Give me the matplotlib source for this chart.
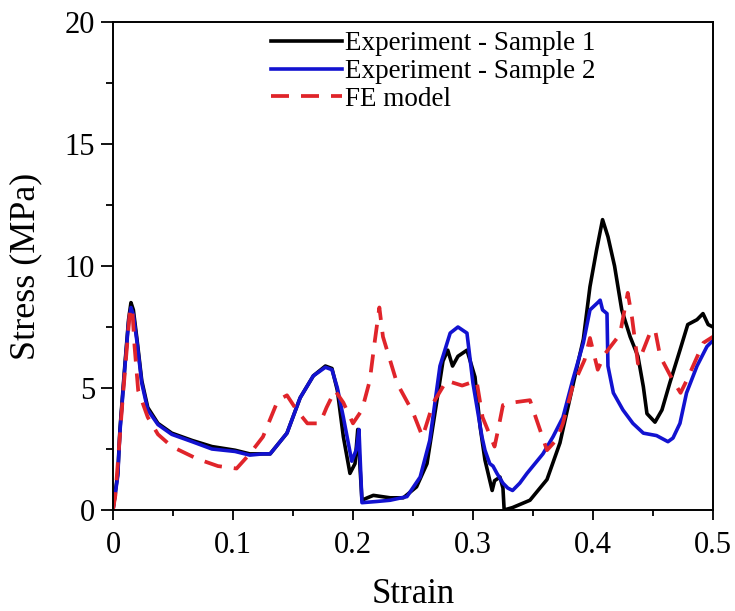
import numpy as np
import matplotlib.pyplot as plt
from matplotlib.ticker import MultipleLocator

# Sample 1 (black)
s1_x = [0, 0.004, 0.0058, 0.010, 0.013, 0.015, 0.017, 0.020, 0.024, 0.029, 0.0375, 0.049, 0.066,
        0.0825, 0.1017, 0.114, 0.125, 0.131, 0.145, 0.156, 0.167, 0.177, 0.1825, 0.187, 0.192,
        0.1975, 0.2017, 0.204, 0.2075, 0.212, 0.217, 0.231, 0.242, 0.253, 0.2617, 0.27, 0.275,
        0.279, 0.283, 0.2875, 0.295, 0.3017, 0.306, 0.31, 0.316, 0.318, 0.3225, 0.325, 0.326,
        0.333, 0.3475, 0.3617, 0.3725, 0.383, 0.392, 0.3975, 0.403, 0.408, 0.4125, 0.418, 0.424,
        0.431, 0.4375, 0.442, 0.445, 0.4517, 0.4575, 0.464, 0.4725, 0.479, 0.4867, 0.4917, 0.496, 0.5]
s1_y = [0, 1.5, 3.3, 6.0, 7.8, 8.5, 8.2, 7.0, 5.3, 4.2, 3.55, 3.15, 2.85,
        2.6, 2.45, 2.3, 2.3, 2.3, 3.15, 4.6, 5.5, 5.9, 5.8, 4.9, 3.0,
        1.5, 1.9, 3.3, 0.4, 0.5, 0.6, 0.5, 0.5, 0.95, 1.9, 4.5, 6.1,
        6.55, 5.9, 6.3, 6.55, 5.45, 3.4, 2.05, 0.8, 1.2, 1.35, 0.9, 0.0,
        0.1, 0.4, 1.25, 2.75, 5.05, 7.0, 9.15, 10.65, 11.9, 11.2, 10.0, 8.2,
        7.1, 6.3, 5.05, 3.95, 3.6, 4.1, 5.2, 6.55, 7.6, 7.8, 8.05, 7.6, 7.5]

# Sample 2 (blue)
s2_x = [0, 0.004, 0.0058, 0.010, 0.013, 0.015, 0.017, 0.020, 0.024, 0.029, 0.0375, 0.049, 0.066,
        0.0825, 0.1017, 0.114, 0.125, 0.131, 0.145, 0.156, 0.167, 0.177, 0.1825, 0.187, 0.192,
        0.199, 0.203, 0.205, 0.2075, 0.22, 0.231, 0.245, 0.256, 0.264, 0.2725, 0.281, 0.2875,
        0.295, 0.300, 0.3075, 0.31, 0.314, 0.3167, 0.32, 0.325, 0.329, 0.333, 0.339, 0.345,
        0.3583, 0.3667, 0.375, 0.383, 0.392, 0.3975, 0.404, 0.406, 0.408, 0.4117, 0.4125, 0.417,
        0.425, 0.4333, 0.442, 0.453, 0.4625, 0.4667, 0.4725, 0.478, 0.4867, 0.495, 0.5]
s2_y = [0, 1.4, 3.2, 5.9, 7.7, 8.3, 8.0, 6.9, 5.2, 4.1, 3.5, 3.1, 2.8,
        2.5, 2.4, 2.25, 2.3, 2.3, 3.15, 4.6, 5.5, 5.85, 5.75, 5.0, 3.8,
        2.0, 2.5, 3.3, 0.3, 0.35, 0.4, 0.55, 1.35, 2.85, 5.9, 7.25, 7.5,
        7.25, 5.2, 3.0, 2.45, 1.9, 1.8, 1.5, 1.1, 0.9, 0.8, 1.1, 1.5,
        2.3, 3.0, 3.8, 5.3, 6.85, 8.2, 8.5, 8.6, 8.2, 8.05, 5.9, 4.8,
        4.1, 3.55, 3.15, 3.05, 2.8, 2.95, 3.55, 4.8, 5.9, 6.7, 6.95]

# FE model (red dashed)
fe_x = [0, 0.002, 0.008, 0.014, 0.016, 0.018, 0.021, 0.029, 0.0375, 0.049, 0.07, 0.0875, 0.103,
        0.114, 0.125, 0.1375, 0.145, 0.153, 0.162, 0.1725, 0.178, 0.185, 0.192, 0.2, 0.2075,
        0.214, 0.218, 0.222, 0.225, 0.2367, 0.25, 0.258, 0.267, 0.278, 0.291, 0.303, 0.308,
        0.318, 0.321, 0.325, 0.3325, 0.3475, 0.353, 0.3617, 0.37, 0.375, 0.383, 0.393, 0.3975,
        0.404, 0.41, 0.4225, 0.429, 0.4325, 0.4375, 0.4475, 0.4517, 0.456, 0.4667, 0.473, 0.478,
        0.492, 0.5]
fe_y = [0, 0.6, 4.5, 8.1, 8.3, 6.7, 4.9, 3.8, 3.1, 2.6, 2.1, 1.8, 1.7,
        2.3, 3.0, 4.5, 4.7, 4.1, 3.55, 3.55, 4.2, 4.9, 4.4, 3.55, 4.1,
        5.3, 6.85, 8.3, 7.1, 5.2, 4.0, 3.0, 4.4, 5.3, 5.1, 5.3, 3.8,
        2.6, 3.3, 4.3, 4.4, 4.5, 3.7, 2.45, 2.9, 3.55, 5.05, 6.15, 7.05,
        5.75, 6.4, 7.2, 8.9, 7.9, 6.0, 7.25, 7.4, 6.3, 5.3, 4.8, 5.3,
        6.85, 7.1]

plt.rcParams['font.family'] = ['Liberation Serif', 'DejaVu Serif']

fig = plt.figure(figsize=(7.35, 6.11), dpi=100)
ax = fig.add_axes([0.1537, 0.1653, 0.8163, 0.7987])

ax.plot(s1_x, s1_y, color='black', lw=2.6, label='Experiment - Sample 1')
ax.plot(s2_x, s2_y, color='#1212d0', lw=2.6, label='Experiment - Sample 2')
ax.plot(fe_x, fe_y, color='#e0242a', lw=2.7, dashes=(4.8, 3.2), label='FE model')

ax.set_xlim(0, 0.5)
ax.set_ylim(0, 20)
ax.xaxis.set_minor_locator(MultipleLocator(0.05))
ax.yaxis.set_major_locator(MultipleLocator(5))
ax.yaxis.set_minor_locator(MultipleLocator(2.5))
ax.set_xticks([0, 0.1, 0.2, 0.3, 0.4, 0.5])
ax.set_xticklabels(['0', '0.1', '0.2', '0.3', '0.4', '0.5'])
ax.tick_params(axis='x', which='major', direction='out', length=7, width=1.3, labelsize=22, pad=8)
ax.tick_params(axis='y', which='major', direction='out', length=9, width=1.3, labelsize=22, pad=4)
ax.tick_params(axis='x', which='minor', direction='out', length=4, width=1.3)
ax.tick_params(axis='y', which='minor', direction='out', length=5, width=1.3)
for sp in ax.spines.values():
    sp.set_linewidth(1.4)

ax.set_xlabel('Strain', fontsize=25, labelpad=13)
ax.set_ylabel('Stress (MPa)', fontsize=26, labelpad=16)

ax.legend(loc='upper left', bbox_to_anchor=(0.228, 1.025), frameon=False, fontsize=19.5,
          handlelength=2.6, handletextpad=0.1, labelspacing=0.1, borderpad=0.3)

fig.savefig('out.png', dpi=100)
